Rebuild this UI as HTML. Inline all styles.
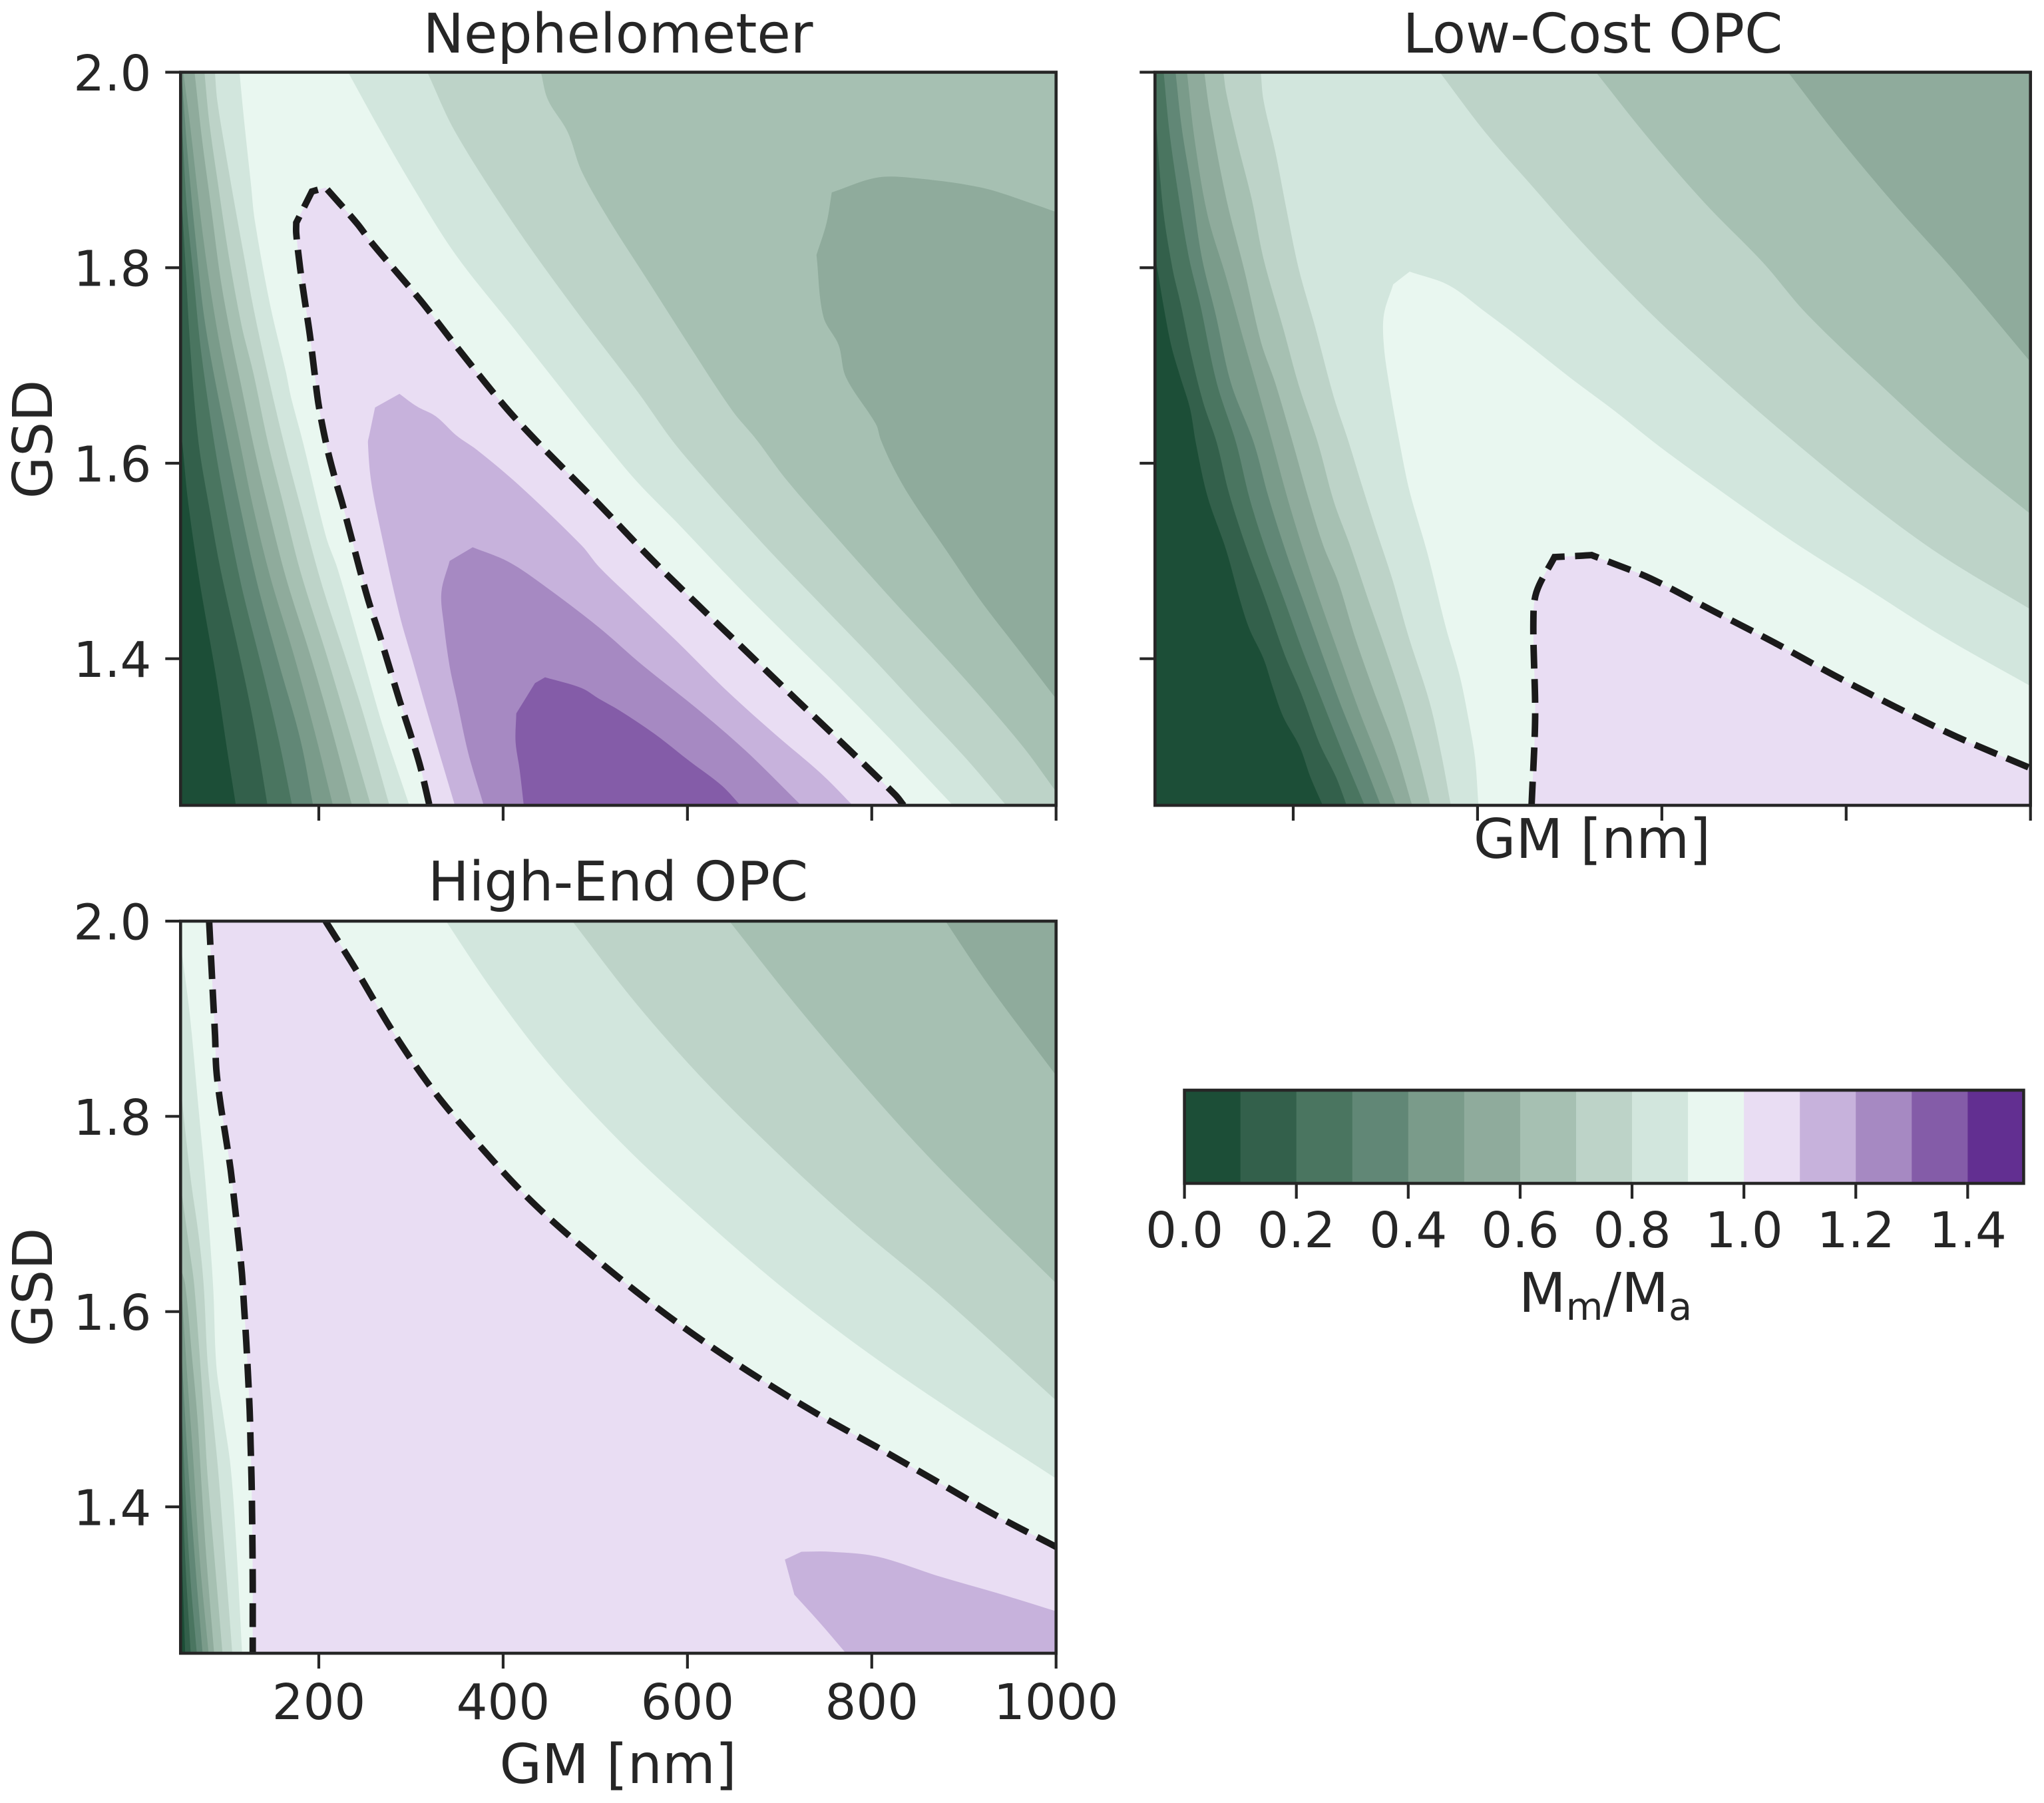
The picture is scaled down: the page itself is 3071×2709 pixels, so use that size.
<!DOCTYPE html>
<html lang="en">
<head>
<meta charset="utf-8">
<title>Mm/Ma contour maps by GM and GSD</title>
<style>
html,body{margin:0;padding:0;background:#fff}
svg{display:block}
text{font-family:"DejaVu Sans","Liberation Sans",sans-serif;fill:#262626}
.label{font-size:82px}
.tick{font-size:73.6px}
</style>
</head>
<body>
<svg id="chart" xmlns="http://www.w3.org/2000/svg" width="3071" height="2709" viewBox="0 0 3071 2709">
  <rect x="0" y="0" width="3071" height="2709" fill="#ffffff"/>
  <g id="panels"></g>
  <text class="label" x="928.6" y="79" text-anchor="middle">Nephelometer</text>
  <text class="label" x="2393" y="79" text-anchor="middle">Low-Cost OPC</text>
  <text class="label" x="928.6" y="1353" text-anchor="middle">High-End OPC</text>
  <text class="label" transform="translate(78,660) rotate(-90)" text-anchor="middle">GSD</text>
  <text class="label" transform="translate(78,1934) rotate(-90)" text-anchor="middle">GSD</text>
  <text class="label" x="2392" y="1289" text-anchor="middle">GM [nm]</text>
  <text class="label" x="928.6" y="2679" text-anchor="middle">GM [nm]</text>
  <text class="label" x="2412" y="1971" text-anchor="middle">M<tspan font-size="57.4" dy="12">m</tspan><tspan dy="-12">/M</tspan><tspan font-size="57.4" dy="12">a</tspan></text>
  <g id="colorbar"></g>
</svg>
<script>
/* ---------- colour levels ---------- */
const levelEdges = [0,0.1,0.2,0.3,0.4,0.5,0.6,0.7,0.8,0.9,1.0,1.1,1.2,1.3,1.4,1.5];
const bandColors = ['#1c4e37','#33604b','#4a7560','#618776','#7a9b8a','#8fab9c','#a6c0b2','#bdd3c8','#d2e6dd','#e9f7f0','#e9ddf3','#c7b2dc','#a689c2','#845ca8','#622f91'];

/* ---------- axis ticks ---------- */
const gmTicks = [200,400,600,800,1000];
const gsdTicks = [1.4,1.6,1.8,2.0];
const cbarTicks = [0,0.2,0.4,0.6,0.8,1.0,1.2,1.4];
const gmLimits = [50,1000];
const gsdLimits = [1.25,2.0];

/* ---------- Nephelometer contours: [GM, GSD] ---------- */
const nephL01 = [[50,1.63],[51.8,1.621],[58.1,1.561],[70.8,1.478],[88.5,1.382],[100,1.31],[110,1.25]];
const nephL02 = [[50,1.88],[51.8,1.859],[55.6,1.799],[60.7,1.716],[69.5,1.621],[82.2,1.549],[93.6,1.49],[119,1.382],[131.6,1.322],[144.3,1.25]];
const nephL03 = [[50,1.96],[51.8,1.94],[56.9,1.859],[64.5,1.787],[72,1.716],[86.5,1.621],[100,1.549],[116.4,1.473],[140.5,1.382],[157,1.315],[171,1.25]];
const nephL04 = [[50,2.0],[51.8,1.988],[56.9,1.924],[65.7,1.835],[77.1,1.74],[100.7,1.621],[113.9,1.559],[132.9,1.478],[157,1.394],[179.8,1.318],[193.8,1.25]];
const nephL05 = [[53,2.0],[60.7,1.943],[70.8,1.859],[81,1.787],[93.6,1.716],[114.4,1.621],[127.8,1.559],[146.9,1.485],[172.2,1.406],[195,1.327],[215.3,1.25]];
const nephL06 = [[65.2,2.0],[73.3,1.931],[83.5,1.859],[93.6,1.787],[105,1.728],[115.2,1.682],[128.6,1.621],[144.3,1.557],[164.6,1.482],[190,1.406],[212.8,1.332],[236,1.25]];
const nephL06Right = [[1000,2.0],[1000,1.857],[979,1.864],[918.6,1.882],[842.5,1.892],[804.5,1.892],[756.6,1.877],[751,1.846],[740,1.813],[747.5,1.75],[764,1.721],[772,1.688],[804.5,1.64],[809.8,1.624],[823.4,1.5955],[842.5,1.564],[882.2,1.509],[917.2,1.4605],[958.5,1.41],[1000,1.359]];
const nephL07 = [[75.9,2.0],[81,1.95],[91,1.883],[102.5,1.811],[116.4,1.74],[129,1.692],[144.8,1.621],[160.8,1.561],[179.8,1.49],[207.7,1.406],[230.5,1.334],[256.4,1.25]];
const nephL07Right = [[441,2.0],[448.5,1.972],[470,1.939],[485,1.899],[515.5,1.848],[561,1.781],[603,1.719],[648.6,1.654],[675,1.624],[707.4,1.583],[764.7,1.521],[821.9,1.4605],[869.5,1.412],[917.2,1.362],[964.9,1.309],[1000,1.264]];
const nephL08 = [[87.3,2.0],[89.8,1.971],[98.7,1.919],[108.8,1.864],[119,1.811],[129,1.759],[144.3,1.692],[162,1.621],[179.8,1.557],[202.6,1.478],[228,1.404],[248.2,1.344],[276.6,1.25]];
const nephL08Right = [[317.7,2.0],[348,1.939],[412.8,1.843],[477.5,1.758],[546,1.673],[582.9,1.624],[612.1,1.591],[653.4,1.547],[697.9,1.5015],[752,1.4485],[806,1.3955],[853.6,1.347],[901.3,1.299],[945.8,1.25]];
const nephL09 = [[113.9,2.0],[119,1.95],[126.6,1.883],[130.4,1.849],[146.9,1.763],[164.6,1.692],[169.7,1.668],[182.9,1.621],[207.7,1.525],[220.4,1.492],[248.2,1.401],[268.5,1.334],[298.2,1.25]];
const nephL09Right = [[231.8,2.0],[264.5,1.944],[302.5,1.882],[348,1.814],[409,1.741],[477.5,1.659],[507.2,1.624],[545.4,1.581],[589.9,1.538],[653.4,1.475],[707.4,1.424],[761.5,1.374],[821.9,1.316],[888,1.25]];
const nephL10 = [[320,1.25],[310,1.29],[299,1.324],[287.7,1.357],[277,1.39],[266,1.424],[254.6,1.457],[244.5,1.491],[235,1.525],[225.4,1.559],[215.3,1.592],[207.7,1.621],[199.6,1.661],[195,1.695],[190.5,1.73],[185,1.765],[179.8,1.799],[175.5,1.835],[175.5,1.846],[179.8,1.854],[192.5,1.878],[207.4,1.882],[241.7,1.845],[256.9,1.826],[310,1.767],[348,1.721],[401,1.659],[439,1.62],[504,1.558],[558.7,1.504],[612,1.4545],[665.5,1.406],[719.5,1.357],[773,1.309],[825.7,1.2605],[834.6,1.25]];
const nephL11 = [[347.6,1.25],[319,1.341],[301.5,1.399],[287.5,1.445],[268.5,1.525],[257,1.58],[253.3,1.621],[254.6,1.628],[261,1.657],[287.5,1.671],[306.6,1.658],[327,1.648],[349.7,1.628],[371,1.614],[416.6,1.578],[485,1.516],[504,1.494],[535.8,1.465],[586.7,1.4195],[640.7,1.369],[694.7,1.323],[745.6,1.282],[779.3,1.25]];
const nephL12 = [[379,1.25],[362.3,1.303],[349.7,1.358],[342,1.392],[335.7,1.435],[333,1.468],[342,1.5],[367,1.514],[406,1.499],[447,1.473],[504,1.432],[551.7,1.393],[608.9,1.35],[663,1.306],[723.3,1.25]];
const nephL13 = [[422.4,1.25],[418,1.286],[413.5,1.315],[414.3,1.344],[434.6,1.375],[445.5,1.381],[485,1.37],[504,1.359],[526.3,1.347],[564.4,1.323],[602.6,1.295],[637.5,1.27],[657.5,1.25]];

/* ---------- Low-Cost OPC contours: [GM, GSD] ---------- */
const lowL01 = [[50,1.81],[52.5,1.799],[58.9,1.763],[67.7,1.72],[77.9,1.687],[88,1.656],[94.3,1.621],[107,1.566],[127.3,1.511],[142.5,1.459],[152.6,1.43],[167.8,1.4],[178,1.37],[189.4,1.34],[207,1.31],[218.6,1.279],[232,1.25]];
const lowL02 = [[50,1.96],[51.2,1.947],[58.9,1.859],[69,1.799],[77.9,1.763],[89.3,1.711],[102,1.663],[117,1.621],[129.8,1.571],[147.6,1.518],[170.4,1.459],[190.7,1.404],[208.4,1.365],[228.7,1.313],[246.4,1.279],[258,1.25]];
const lowL03 = [[59.4,2.0],[65.2,1.943],[74,1.883],[86.7,1.811],[99.4,1.761],[117,1.682],[138,1.621],[152.6,1.564],[170.4,1.511],[190.7,1.459],[211,1.406],[231,1.358],[254,1.303],[277.4,1.25]];
const lowL04 = [[72.3,2.0],[79,1.943],[89.3,1.883],[100.7,1.811],[115.9,1.752],[132.4,1.682],[157.2,1.621],[173,1.566],[193.2,1.506],[211,1.459],[231,1.406],[251.5,1.353],[274.3,1.3],[295,1.25]];
const lowL05 = [[84.7,2.0],[93,1.931],[107,1.854],[127.3,1.79],[145,1.73],[160.2,1.68],[177.5,1.621],[193.2,1.566],[211,1.511],[231,1.454],[249,1.406],[271.8,1.346],[292,1.298],[311.6,1.25]];
const lowL06 = [[103.5,2.0],[109.5,1.959],[127.3,1.871],[147.6,1.795],[165.3,1.723],[180.5,1.682],[199.5,1.621],[216,1.566],[232.5,1.516],[249,1.478],[266.7,1.423],[287,1.368],[310,1.31],[329,1.25]];
const lowL06Right = [[737,2.0],[790.2,1.935],[854.4,1.8626],[918.6,1.795],[1000,1.7036]];
const lowL07 = [[124.2,2.0],[127.3,1.979],[140,1.926],[155.2,1.869],[167.8,1.809],[189.4,1.737],[205.9,1.68],[226.7,1.621],[244,1.561],[261.6,1.516],[281.9,1.459],[299.7,1.411],[320,1.353],[335,1.303],[349,1.25]];
const lowL07Right = [[528.5,2.0],[581.5,1.937],[645.7,1.867],[710,1.805],[758,1.752],[854.4,1.665],[918.6,1.61],[1000,1.548]];
const lowL08 = [[164.8,2.0],[167.8,1.971],[180.5,1.919],[193.2,1.857],[205.9,1.799],[223.6,1.74],[243.9,1.668],[260.4,1.621],[274.3,1.578],[289.5,1.533],[307.3,1.482],[325,1.423],[347.8,1.356],[360.5,1.303],[371,1.25]];
const lowL08Right = [[359,2.0],[408,1.939],[460.6,1.882],[501.2,1.8385],[549.4,1.79],[597.5,1.7445],[661.8,1.689],[726,1.636],[822.3,1.5614],[902.6,1.506],[1000,1.4505]];
const lowL09 = [[401,1.25],[397.3,1.298],[391,1.334],[380.8,1.382],[365.6,1.432],[345.3,1.509],[326.3,1.571],[315.4,1.621],[304.7,1.677],[298.4,1.72],[298.4,1.752],[308.5,1.783],[326.3,1.796],[369,1.782],[408,1.755],[447.5,1.727],[501.2,1.687],[549.4,1.653],[597.5,1.617],[661.8,1.573],[742,1.52],[822.3,1.472],[902.6,1.424],[1000,1.372],[1000,1.25]];
const lowL10 = [[458.6,1.25],[462.5,1.341],[460.6,1.437],[463.9,1.468],[483.5,1.504],[506,1.505],[523.7,1.506],[543,1.499],[588,1.482],[655.3,1.449],[721,1.417],[787,1.383],[852.8,1.351],[920.2,1.32],[1000,1.288]];

/* ---------- High-End OPC contours: [GM, GSD] ---------- */
const highL01 = [[50,1.38],[51.5,1.347],[55,1.25]];
const highL02 = [[50,1.46],[51.5,1.433],[55,1.347],[61,1.25]];
const highL03 = [[50,1.52],[51.5,1.491],[56.3,1.396],[61,1.323],[67.6,1.25]];
const highL04 = [[50,1.58],[51.5,1.55],[57.5,1.452],[66,1.34],[73.9,1.25]];
const highL05 = [[50,1.63],[51.5,1.615],[57.5,1.53],[63.5,1.452],[70.7,1.347],[80.4,1.25]];
const highL06 = [[50,1.645],[55,1.628],[62.3,1.555],[68.3,1.491],[72,1.433],[78,1.347],[86.4,1.25]];
const highL06Right = [[880,2.0],[927,1.934],[1000,1.842]];
const highL07 = [[50,1.73],[59.9,1.662],[64.7,1.628],[70.7,1.555],[75.5,1.491],[79.2,1.433],[86.4,1.352],[95.5,1.25]];
const highL07Right = [[645.5,2.0],[716,1.916],[794,1.829],[872.4,1.748],[1000,1.629]];
const highL08 = [[50,1.83],[61.1,1.735],[69.5,1.679],[75,1.628],[79.2,1.55],[85.2,1.491],[91.2,1.433],[97.2,1.36],[106.1,1.25]];
const highL08Right = [[475,2.0],[544,1.916],[614,1.841],[692.4,1.767],[778.5,1.692],[872.4,1.618],[1000,1.509]];
const highL09 = [[50,1.977],[59.9,1.905],[69.5,1.808],[76.8,1.735],[85.2,1.628],[88.8,1.545],[96,1.496],[104.4,1.44],[110.5,1.36],[116.7,1.25]];
const highL09Right = [[338,2.0],[387,1.931],[450,1.853],[528,1.773],[606,1.704],[700,1.627],[794,1.559],[896,1.493],[1000,1.429]];
const highL10 = [[81,2.0],[83.5,1.954],[85.4,1.919],[87.4,1.883],[88.8,1.848],[93.1,1.814],[99,1.779],[104.4,1.745],[108.8,1.709],[112.9,1.674],[116.5,1.64],[118.9,1.605],[121.3,1.569],[123.2,1.534],[125,1.499],[126,1.464],[127,1.429],[127.6,1.394],[128,1.359],[128.3,1.323],[128.3,1.289],[128.3,1.25]];
const highL10Right = [[207.3,2.0],[238.6,1.953],[281.6,1.885],[324.7,1.826],[371.6,1.773],[426.4,1.717],[481,1.67],[543.8,1.621],[606,1.577],[669,1.537],[739.4,1.496],[809.8,1.459],[872.4,1.425],[935,1.391],[1000,1.359]];
const highL11 = [[772,1.25],[743,1.282],[716,1.31],[705.7,1.346],[723.7,1.354],[755,1.354],[806,1.349],[872.4,1.329],[935,1.312],[1000,1.293],[1000,1.25]];

/* ---------- level tables: [level-index, left/closed boundary, right boundary] ---------- */
const nephBands = [[1,nephL01],[2,nephL02],[3,nephL03],[4,nephL04],[5,nephL05],[6,nephL06,nephL06Right],[7,nephL07,nephL07Right],[8,nephL08,nephL08Right],[9,nephL09,nephL09Right]];
const nephClosed = [[10,nephL10],[11,nephL11],[12,nephL12],[13,nephL13]];
const lowBands = [[1,lowL01],[2,lowL02],[3,lowL03],[4,lowL04],[5,lowL05],[6,lowL06,lowL06Right],[7,lowL07,lowL07Right],[8,lowL08,lowL08Right]];
const lowClosed = [[9,lowL09]];
const highBands = [[1,highL01],[2,highL02],[3,highL03],[4,highL04],[5,highL05],[6,highL06,highL06Right],[7,highL07,highL07Right],[8,highL08,highL08Right],[9,highL09,highL09Right],[10,highL10,highL10Right]];
const highClosed = [[11,highL11]];

/* ---------- drawing ---------- */
const SVGNS = 'http://www.w3.org/2000/svg';
function make(parent, tag, attrs) {
  const el = document.createElementNS(SVGNS, tag);
  for (const k in attrs) el.setAttribute(k, attrs[k]);
  parent.appendChild(el);
  return el;
}
/* Builds a path through mapped points: gentle bends are splined, sharp bends stay as corners. */
function pathOf(points, sx, sy, close) {
  const pts = [];
  points.forEach(p => {
    const q = [sx(p[0]), sy(p[1])];
    const last = pts[pts.length - 1];
    if (!last || Math.hypot(q[0] - last[0], q[1] - last[1]) > 0.01) pts.push(q);
  });
  const n = pts.length;
  const unit = (a, b) => {
    const dx = b[0] - a[0], dy = b[1] - a[1], l = Math.hypot(dx, dy) || 1;
    return [dx / l, dy / l];
  };
  const isCorner = i => {
    if (i === 0 || i === n - 1) return true;
    const u = unit(pts[i - 1], pts[i]), v = unit(pts[i], pts[i + 1]);
    return (u[0] * v[0] + u[1] * v[1]) < Math.cos(22 * Math.PI / 180);
  };
  const f = v => v.toFixed(1);
  let d = 'M' + f(pts[0][0]) + ' ' + f(pts[0][1]);
  for (let i = 0; i < n - 1; i++) {
    const a = pts[i], b = pts[i + 1];
    const L = Math.hypot(b[0] - a[0], b[1] - a[1]) / 3;
    const t0 = isCorner(i) ? unit(a, b) : unit(pts[i - 1], b);
    const t1 = isCorner(i + 1) ? unit(a, b) : unit(a, pts[i + 2]);
    d += 'C' + f(a[0] + t0[0] * L) + ' ' + f(a[1] + t0[1] * L) + ' ' + f(b[0] - t1[0] * L) + ' ' + f(b[1] - t1[1] * L) + ' ' + f(b[0]) + ' ' + f(b[1]);
  }
  return d + (close ? 'Z' : '');
}
const BR = [gmLimits[1], gsdLimits[0]];
const TR = [gmLimits[1], gsdLimits[1]];
const TL = [gmLimits[0], gsdLimits[1]];

function drawPanel(cfg) {
  const W = cfg.right - cfg.left, H = cfg.bottom - cfg.top;
  const sx = v => cfg.left + (v - gmLimits[0]) / (gmLimits[1] - gmLimits[0]) * W;
  const sy = v => cfg.bottom - (v - gsdLimits[0]) / (gsdLimits[1] - gsdLimits[0]) * H;
  const root = document.getElementById('panels');
  const g = make(root, 'g', {});
  
  

  const cp = make(g, 'clipPath', {id: cfg.name + '-clip'});
  make(cp, 'rect', {x: cfg.left, y: cfg.top, width: W, height: H});

  const plot = make(g, 'g', {'clip-path': 'url(#' + cfg.name + '-clip)'});
  
  

  const base = make(plot, 'rect', {x: cfg.left, y: cfg.top, width: W, height: H, fill: bandColors[0]});
  
  

  cfg.bands.forEach(b => {
    let poly = b[1].concat([BR]);
    if (b[2]) poly = poly.concat(b[2].slice().reverse(), [TL]);
    else poly = poly.concat([TR, TL]);
    const el = make(plot, 'path', {d: pathOf(poly, sx, sy, true), fill: bandColors[b[0]]});
    
    
  });
  cfg.closed.forEach(b => {
    const el = make(plot, 'path', {d: pathOf(b[1], sx, sy, true), fill: bandColors[b[0]]});
    
    
  });
  cfg.extraFill.forEach(b => {
    const el = make(plot, 'path', {d: pathOf(b[1].concat([BR]), sx, sy, true), fill: bandColors[b[0]]});
    
    
  });
  cfg.dashed.forEach(line => {
    const el = make(plot, 'path', {d: pathOf(line, sx, sy, false), fill: 'none', stroke: '#1a1a1a', 'stroke-width': 9.8, 'stroke-dasharray': '35.7 15.7'});
    
    
  });

  const frame = make(g, 'rect', {x: cfg.left, y: cfg.top, width: W, height: H, fill: 'none', stroke: '#262626', 'stroke-width': 4.6});
  
  

  gmTicks.forEach(t => {
    const x = sx(t);
    const tick = make(g, 'line', {x1: x, x2: x, y1: cfg.bottom, y2: cfg.bottom + 23, stroke: '#262626', 'stroke-width': 4.2});
    
    
    if (cfg.xLabels) {
      const lab = make(g, 'text', {x: x, y: cfg.bottom + 99, 'text-anchor': 'middle', class: 'tick'});
      lab.textContent = String(t);
      
      
    }
  });
  gsdTicks.forEach(t => {
    const y = sy(t);
    const tick = make(g, 'line', {x1: cfg.left - 23, x2: cfg.left, y1: y, y2: y, stroke: '#262626', 'stroke-width': 4.2});
    
    
    if (cfg.yLabels) {
      const lab = make(g, 'text', {x: cfg.left - 44, y: y + 27.5, 'text-anchor': 'end', class: 'tick'});
      lab.textContent = t.toFixed(1);
      
      
    }
  });
}

drawPanel({name: 'nephelometer', left: 271.3, right: 1586.7, top: 108.5, bottom: 1210,
  bands: nephBands, closed: nephClosed, extraFill: [], dashed: [nephL10.slice().reverse()], xLabels: false, yLabels: true});
drawPanel({name: 'low-cost-opc', left: 1735.3, right: 3050.7, top: 108.5, bottom: 1210,
  bands: lowBands, closed: lowClosed, extraFill: [[10, lowL10]], dashed: [lowL10], xLabels: false, yLabels: false});
drawPanel({name: 'high-end-opc', left: 271.3, right: 1586.7, top: 1384, bottom: 2484,
  bands: highBands, closed: highClosed, extraFill: [], dashed: [highL10, highL10Right], xLabels: true, yLabels: true});

function drawColorbar() {
  const left = 1779.6, right = 3040.4, top = 1638, bottom = 1778;
  const sc = v => left + (v - levelEdges[0]) / (levelEdges[levelEdges.length - 1] - levelEdges[0]) * (right - left);
  const g = document.getElementById('colorbar');
  bandColors.forEach((c, i) => {
    const x0 = sc(levelEdges[i]), x1 = sc(levelEdges[i + 1]);
    const cell = make(g, 'rect', {x: x0, y: top, width: x1 - x0 + 0.4, height: bottom - top, fill: c});
    
    
  });
  const frame = make(g, 'rect', {x: left, y: top, width: right - left, height: bottom - top, fill: 'none', stroke: '#262626', 'stroke-width': 4.6});
  
  
  cbarTicks.forEach(t => {
    const x = sc(t);
    const tick = make(g, 'line', {x1: x, x2: x, y1: bottom, y2: bottom + 23, stroke: '#262626', 'stroke-width': 4.2});
    
    
    const lab = make(g, 'text', {x: x, y: 1874, 'text-anchor': 'middle', class: 'tick'});
    lab.textContent = t.toFixed(1);
    
    
  });
}
drawColorbar();
</script>
</body>
</html>
